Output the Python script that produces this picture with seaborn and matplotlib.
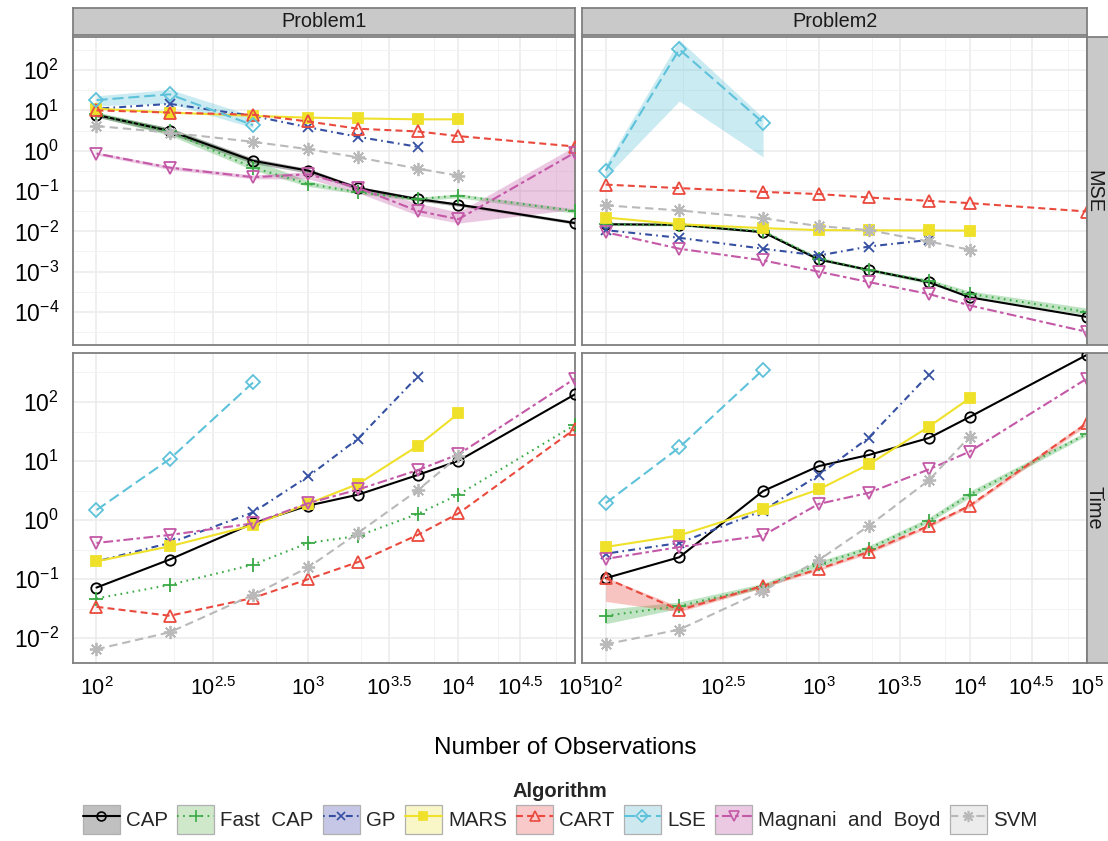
import numpy as np
import pandas as pd
import matplotlib
matplotlib.use("Agg")
import matplotlib.pyplot as plt
import matplotlib.ticker as mticker
import seaborn as sns
from matplotlib.patches import Patch
from matplotlib.lines import Line2D
from matplotlib.legend_handler import HandlerTuple

# ------------------------------------------------------------------ data
N = [100, 200, 500, 1000, 2000, 5000, 10000, 100000]
algorithms = ["CAP", "Fast CAP", "GP", "MARS", "CART", "LSE", "Magnani and Boyd", "SVM"]
legend_labels = ["CAP", "Fast  CAP", "GP", "MARS", "CART", "LSE", "Magnani  and  Boyd", "SVM"]
problems = ["Problem1", "Problem2"]
metrics = ["MSE", "Time"]

# Problem1 - MSE
p1_mse_cap = [7.7, 3.1, 0.56, 0.32, 0.118, 0.063, 0.046, 0.016]
p1_mse_fastcap = [8.0, 3.0, 0.38, 0.15, 0.093, 0.063, 0.077, 0.032]
p1_mse_gp = [11, 14.5, 7.3, 3.8, 2.2, 1.25]
p1_mse_mars = [11, 8.8, 7.3, 6.6, 6.3, 6.0, 6.0]
p1_mse_cart = [10, 8.8, 7.8, 5.3, 3.5, 3.0, 2.3, 1.27]
p1_mse_lse = [18, 25, 4.3]
p1_mse_mb = [0.85, 0.38, 0.22, 0.26, 0.12, 0.032, 0.020, 0.9]
p1_mse_svm = [4.1, 2.8, 1.66, 1.09, 0.68, 0.36, 0.24]

# Problem2 - MSE
p2_mse_cap = [0.015, 0.0145, 0.0095, 0.0020, 0.0011, 0.00055, 0.00023, 7.5e-5]
p2_mse_fastcap = [0.015, 0.0145, 0.0100, 0.0021, 0.0011, 0.00058, 0.00028, 1.0e-4]
p2_mse_gp = [0.0107, 0.0069, 0.0037, 0.0025, 0.0042, 0.0061]
p2_mse_mars = [0.022, 0.015, 0.012, 0.0107, 0.0106, 0.0105, 0.0104]
p2_mse_cart = [0.144, 0.118, 0.095, 0.084, 0.069, 0.057, 0.050, 0.031]
p2_mse_lse = [0.32, 326, 5.0]
p2_mse_mb = [0.0095, 0.0037, 0.0019, 0.0010, 0.00055, 0.00028, 0.000145, 3.2e-5]
p2_mse_svm = [0.044, 0.033, 0.021, 0.0135, 0.0107, 0.0056, 0.0035]

# Problem1 - Time
p1_time_cap = [0.072, 0.215, 0.88, 1.76, 2.7, 5.8, 10.1, 135]
p1_time_fastcap = [0.047, 0.08, 0.176, 0.41, 0.54, 1.27, 2.7, 41]
p1_time_gp = [0.2, 0.41, 1.35, 5.5, 24, 270]
p1_time_mars = [0.2, 0.36, 0.82, 1.9, 4.1, 18, 64]
p1_time_cart = [0.034, 0.024, 0.048, 0.1, 0.195, 0.56, 1.3, 35]
p1_time_lse = [1.48, 10.8, 214]
p1_time_mb = [0.41, 0.56, 0.88, 1.93, 3.3, 7.0, 13, 250]
p1_time_svm = [0.0065, 0.0126, 0.054, 0.158, 0.61, 3.2, 12]

# Problem2 - Time
p2_time_cap = [0.104, 0.235, 3.1, 8.2, 12.7, 24.5, 56, 630]
p2_time_fastcap = [0.024, 0.035, 0.075, 0.18, 0.33, 0.97, 2.7, 29]
p2_time_gp = [0.27, 0.41, 1.45, 5.8, 25, 290]
p2_time_mars = [0.35, 0.55, 1.55, 3.3, 8.8, 38, 116]
p2_time_cart = [0.104, 0.030, 0.077, 0.148, 0.29, 0.8, 1.76, 44]
p2_time_lse = [1.93, 17, 353]
p2_time_mb = [0.22, 0.35, 0.55, 1.88, 2.9, 7.2, 14.5, 250]
p2_time_svm = [0.0079, 0.014, 0.063, 0.21, 0.8, 4.7, 26]

# visible ribbons (lower / upper bounds)
p1_mse_cap_lo = [6.8, 2.6, 0.48, 0.28, 0.105, 0.057, 0.042, 0.015]
p1_mse_cap_hi = [8.6, 3.7, 0.65, 0.36, 0.13, 0.070, 0.050, 0.018]
p1_mse_fastcap_lo = [7.0, 2.4, 0.33, 0.13, 0.085, 0.057, 0.068, 0.028]
p1_mse_fastcap_hi = [9.2, 3.6, 0.60, 0.18, 0.10, 0.070, 0.085, 0.036]
p1_mse_lse_lo = [13, 15, 3.7]
p1_mse_lse_hi = [23, 33, 7.3]
p1_mse_mb_lo = [0.78, 0.34, 0.20, 0.20, 0.09, 0.025, 0.016, 0.035]
p1_mse_mb_hi = [0.92, 0.42, 0.25, 0.30, 0.14, 0.050, 0.030, 1.3]
p2_mse_lse_lo = [0.22, 17, 0.7]
p2_mse_lse_hi = [0.45, 560, 6.6]
p2_mse_fastcap_lo = [0.014, 0.0135, 0.0092, 0.0019, 0.0010, 0.00050, 0.00023, 8.5e-5]
p2_mse_fastcap_hi = [0.016, 0.0155, 0.0110, 0.0023, 0.0012, 0.00065, 0.00033, 1.25e-4]
p2_time_cart_lo = [0.042, 0.028, 0.072, 0.14, 0.27, 0.75, 1.65, 40]
p2_time_cart_hi = [0.108, 0.034, 0.082, 0.156, 0.31, 0.85, 1.9, 48]
p2_time_fastcap_lo = [0.0176, 0.032, 0.070, 0.16, 0.30, 0.90, 2.4, 27]
p2_time_fastcap_hi = [0.031, 0.041, 0.085, 0.20, 0.37, 1.10, 3.1, 32]

series = {
    ("Problem1", "MSE"): [p1_mse_cap, p1_mse_fastcap, p1_mse_gp, p1_mse_mars,
                          p1_mse_cart, p1_mse_lse, p1_mse_mb, p1_mse_svm],
    ("Problem2", "MSE"): [p2_mse_cap, p2_mse_fastcap, p2_mse_gp, p2_mse_mars,
                          p2_mse_cart, p2_mse_lse, p2_mse_mb, p2_mse_svm],
    ("Problem1", "Time"): [p1_time_cap, p1_time_fastcap, p1_time_gp, p1_time_mars,
                           p1_time_cart, p1_time_lse, p1_time_mb, p1_time_svm],
    ("Problem2", "Time"): [p2_time_cap, p2_time_fastcap, p2_time_gp, p2_time_mars,
                           p2_time_cart, p2_time_lse, p2_time_mb, p2_time_svm],
}
ribbons = {
    ("Problem1", "MSE", "CAP"): (p1_mse_cap_lo, p1_mse_cap_hi),
    ("Problem1", "MSE", "Fast CAP"): (p1_mse_fastcap_lo, p1_mse_fastcap_hi),
    ("Problem1", "MSE", "LSE"): (p1_mse_lse_lo, p1_mse_lse_hi),
    ("Problem1", "MSE", "Magnani and Boyd"): (p1_mse_mb_lo, p1_mse_mb_hi),
    ("Problem2", "MSE", "LSE"): (p2_mse_lse_lo, p2_mse_lse_hi),
    ("Problem2", "MSE", "Fast CAP"): (p2_mse_fastcap_lo, p2_mse_fastcap_hi),
    ("Problem2", "Time", "CART"): (p2_time_cart_lo, p2_time_cart_hi),
    ("Problem2", "Time", "Fast CAP"): (p2_time_fastcap_lo, p2_time_fastcap_hi),
}

rows = []
for (prob, met), vals_list in series.items():
    for alg, vals in zip(algorithms, vals_list):
        for n, v in zip(N, vals):
            rows.append(dict(problem=prob, metric=met, algorithm=alg, N=n,
                             logN=np.log10(n), value=v))
df = pd.DataFrame(rows)

# ------------------------------------------------------------------ style
sns.set_theme(style="white")
plt.rcParams["font.family"] = ["Liberation Sans", "DejaVu Sans"]
plt.rcParams["mathtext.fontset"] = "custom"
plt.rcParams["mathtext.rm"] = "Liberation Sans"
plt.rcParams["mathtext.it"] = "Liberation Sans:italic"
plt.rcParams["mathtext.bf"] = "Liberation Sans:bold"
plt.rcParams["lines.scale_dashes"] = False

styles = {
    "CAP": dict(color="#000000", marker="o", ls="-", mfc="none", key="#c0c0c0"),
    "Fast CAP": dict(color="#3aaa45", marker="+", ls=(0, (1.2, 3.2)), mfc="none", key="#cfe8ca"),
    "GP": dict(color="#3550a2", marker="x", ls=(0, (1.2, 3, 5, 3)), mfc="none", key="#c6c6e6"),
    "MARS": dict(color="#efe12a", marker="s", ls="-", mfc="#efe12a", key="#f9f6c8"),
    "CART": dict(color="#ea4a3e", marker="^", ls=(0, (5, 3)), mfc="none", key="#f9c8c8"),
    "LSE": dict(color="#5ec2da", marker="D", ls=(0, (8, 3.5)), mfc="none", key="#cde9ef"),
    "Magnani and Boyd": dict(color="#c459a7", marker="v", ls=(0, (2.5, 2.5, 7, 2.5)), mfc="none", key="#ebc9e2"),
    "SVM": dict(color="#b9b9b9", marker=(8, 2, 0), ls=(0, (6, 3.5)), mfc="none", key="#ececec"),
}
msizes = {"CAP": 7.5, "Fast CAP": 9.5, "GP": 7.5, "MARS": 7, "CART": 8, "LSE": 7,
          "Magnani and Boyd": 8, "SVM": 9.5}

W, H = 1108, 841
fig = plt.figure(figsize=(W / 100, H / 100), dpi=100)
fig.patch.set_facecolor("white")


def rect(l, t, r, b):
    return [l / W, 1 - b / H, (r - l) / W, (b - t) / H]


col_px = [(73, 575), (582, 1087)]
row_px = [(37, 345), (353, 663)]
ylims = {"MSE": (10 ** -4.82, 10 ** 2.82), "Time": (10 ** -2.42, 10 ** 2.83)}
yticks = {"MSE": [-4, -3, -2, -1, 0, 1, 2], "Time": [-2, -1, 0, 1, 2]}
xmaj = [2, 2.5, 3, 3.5, 4, 4.5, 5]
xmin = [np.log10((10 ** a + 10 ** b) / 2) for a, b in zip(xmaj[:-1], xmaj[1:])]
xlabels = [r"$\mathregular{10^{%s}}$" % (f"{t:g}") for t in xmaj]

edge_col = "#7f7f7f"
for ri, met in enumerate(metrics):
    for ci, prob in enumerate(problems):
        ax = fig.add_axes(rect(col_px[ci][0], row_px[ri][0], col_px[ci][1], row_px[ri][1]))
        ax.set_facecolor("white")
        ax.set_xscale("log")
        ax.set_yscale("log")
        ax.set_xlim(1.912, 5.0)
        ax.set_ylim(*ylims[met])
        sub = df[(df.problem == prob) & (df.metric == met)]
        # ribbons
        for alg in algorithms:
            key = (prob, met, alg)
            if key in ribbons:
                lo, hi = ribbons[key]
                xs = np.log10(N[:len(lo)])
                ax.fill_between(xs, lo, hi, color=styles[alg]["color"], alpha=0.32,
                                linewidth=0, zorder=2)
        # lines
        for k, alg in enumerate(algorithms):
            s = styles[alg]
            d = sub[sub.algorithm == alg]
            sns.lineplot(data=d, x="logN", y="value", ax=ax, color=s["color"],
                         linestyle=s["ls"], linewidth=1.5, marker=s["marker"],
                         markersize=msizes[alg], markerfacecolor=s["mfc"],
                         markeredgecolor=s["color"], markeredgewidth=1.3,
                         errorbar=None, legend=False, zorder=3 + k * 0.01)
        ax.set_xlabel("")
        ax.set_ylabel("")
        # ticks & grid
        ax.xaxis.set_major_locator(mticker.FixedLocator(xmaj))
        ax.xaxis.set_minor_locator(mticker.FixedLocator(xmin))
        ax.xaxis.set_major_formatter(mticker.FixedFormatter(xlabels))
        ax.xaxis.set_minor_formatter(mticker.NullFormatter())
        yt = [10.0 ** t for t in yticks[met]]
        ytm = [10.0 ** (t + 0.5) for t in yticks[met]] + [10.0 ** (yticks[met][0] - 0.5)]
        ax.yaxis.set_major_locator(mticker.FixedLocator(yt))
        ax.yaxis.set_minor_locator(mticker.FixedLocator(ytm))
        ax.yaxis.set_major_formatter(mticker.FixedFormatter(
            [r"$\mathregular{10^{%d}}$" % t for t in yticks[met]]))
        ax.yaxis.set_minor_formatter(mticker.NullFormatter())
        ax.grid(True, which="major", color="#ebebeb", linewidth=1.1, zorder=0)
        ax.grid(True, which="minor", color="#f3f3f3", linewidth=0.7, zorder=0)
        ax.set_axisbelow(True)
        ax.tick_params(which="major", direction="out", length=6, width=1.0,
                       color="#444444", labelcolor="black", pad=4)
        ax.tick_params(axis="y", labelsize=16.5)
        ax.tick_params(axis="x", labelsize=15.5)
        ax.tick_params(which="minor", length=0)
        if ci == 1:
            ax.tick_params(axis="y", which="both", left=False, labelleft=False)
        if ri == 0:
            ax.tick_params(axis="x", which="both", bottom=False, labelbottom=False)
        for sp in ax.spines.values():
            sp.set_color(edge_col)
            sp.set_linewidth(1.3)
            sp.set_visible(True)

# top strips
for ci, prob in enumerate(problems):
    sax = fig.add_axes(rect(col_px[ci][0], 8, col_px[ci][1], 35))
    sax.set_facecolor("#c9c9c9")
    sax.set_xticks([])
    sax.set_yticks([])
    for sp in sax.spines.values():
        sp.set_color(edge_col)
        sp.set_linewidth(1.3)
    sax.text(0.5, 0.5, prob, ha="center", va="center", fontsize=14.3,
             color="#1a1a1a", transform=sax.transAxes)

# right strips
for ri, met in enumerate(metrics):
    sax = fig.add_axes(rect(1087, row_px[ri][0], 1114, row_px[ri][1]))
    sax.set_facecolor("#c9c9c9")
    sax.set_xticks([])
    sax.set_yticks([])
    for sp in sax.spines.values():
        sp.set_color(edge_col)
        sp.set_linewidth(1.3)
    fig.text(1094 / W, 1 - (row_px[ri][0] + row_px[ri][1]) / 2 / H, met,
             rotation=-90, ha="center", va="center", fontsize=14.3, color="#1a1a1a")

# axis title
fig.text(565 / W, 1 - 748 / H, "Number of Observations", ha="center", va="center",
         fontsize=17.5, color="black")

# legend
handles = []
for alg in algorithms:
    s = styles[alg]
    patch = Patch(facecolor=s["key"], edgecolor="#b0b0b0", linewidth=0.9)
    line = Line2D([], [], color=s["color"], linestyle=s["ls"], linewidth=1.5,
                  marker=s["marker"], markersize=msizes[alg] * 0.85,
                  markerfacecolor=s["mfc"], markeredgecolor=s["color"],
                  markeredgewidth=1.2)
    handles.append((patch, line))
leg = fig.legend(handles, legend_labels, loc="center", bbox_to_anchor=(560 / W, 1 - 808 / H),
                 ncol=8, frameon=False, fontsize=14.8, title="Algorithm",
                 title_fontproperties={"weight": "bold", "size": 14.5},
                 handler_map={tuple: HandlerTuple(ndivide=1, pad=0)},
                 handlelength=1.8, handleheight=1.8, handletextpad=0.3,
                 columnspacing=0.45, borderpad=0.1, labelspacing=0.2)

fig.savefig("out.png", dpi=100, facecolor="white")
